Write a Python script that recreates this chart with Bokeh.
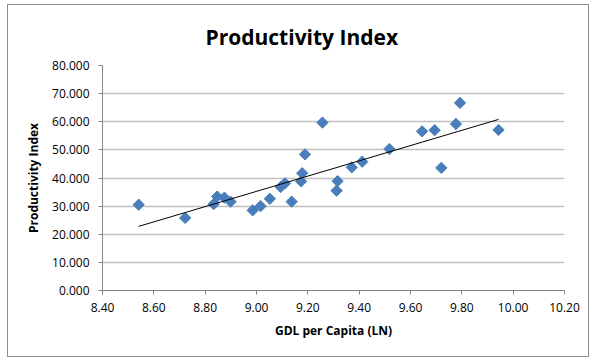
import numpy as np
from bokeh.plotting import figure
from bokeh.models import FixedTicker, NumeralTickFormatter, Range1d, ColumnDataSource, Title
from bokeh.embed import file_html
from bokeh.resources import INLINE

# data
gdp_ln = [8.541, 8.722, 8.833, 8.847, 8.875, 8.899, 8.985, 9.016, 9.052, 9.094,
          9.111, 9.137, 9.174, 9.178, 9.189, 9.257, 9.312, 9.316, 9.371, 9.412,
          9.518, 9.645, 9.694, 9.720, 9.777, 9.793, 9.943]
productivity = [30.5, 25.8, 30.7, 33.4, 33.0, 31.6, 28.5, 30.0, 32.6, 36.8,
                38.1, 31.6, 38.8, 41.7, 48.4, 59.7, 35.5, 38.9, 43.8, 45.8,
                50.3, 56.6, 57.0, 43.6, 59.2, 66.7, 57.1]
x_ticks = [8.4, 8.6, 8.8, 9.0, 9.2, 9.4, 9.6, 9.8, 10.0, 10.2]
y_ticks = [0, 10, 20, 30, 40, 50, 60, 70, 80]

FONT = "Open Sans"

p = figure(width=582, height=353, output_backend="svg", toolbar_location=None,
           x_range=Range1d(8.4, 10.2), y_range=Range1d(0, 80),
           min_border_left=94, min_border_right=26, min_border_top=60,
           min_border_bottom=68)
p.margin = (4, 0, 0, 7)
p.styles = {"border": "1px solid #8c8c8c"}

p.title = Title(text="Productivity Index", align="left", offset=103,
                text_font=FONT, text_font_size="21px", text_font_style="bold",
                text_color="#000000", standoff=30)

src = ColumnDataSource(dict(x=gdp_ln, y=productivity))
p.scatter("x", "y", source=src, marker="square", size=8, angle=np.pi / 4,
          fill_color="#4A7EBB", line_color="#4A7EBB")

# linear trendline computed from the data
slope, intercept = np.polyfit(gdp_ln, productivity, 1)
tx = np.array([min(gdp_ln), max(gdp_ln)])
p.line(tx, slope * tx + intercept, line_color="black", line_width=1)

p.outline_line_color = None
p.xgrid.visible = False
p.ygrid.grid_line_color = "#bfbfbf"
p.ygrid.grid_line_width = 1.5
p.ygrid.ticker = FixedTicker(ticks=y_ticks)

for ax in (p.xaxis[0], p.yaxis[0]):
    ax.axis_line_color = "#868686"
    ax.major_tick_line_color = "#868686"
    ax.minor_tick_line_color = None
    ax.major_tick_in = 0
    ax.major_tick_out = 4
    ax.major_label_text_font = FONT
    ax.major_label_text_font_size = "12px"
    ax.major_label_text_color = "#000000"
    ax.axis_label_text_font = FONT
    ax.axis_label_text_font_size = "12px"
    ax.axis_label_text_font_style = "bold"
    ax.axis_label_text_color = "#000000"

p.xaxis.ticker = FixedTicker(ticks=x_ticks)
p.xaxis.formatter = NumeralTickFormatter(format="0.00")
p.xaxis.axis_label = "GDL per Capita (LN)"
p.xaxis.major_label_standoff = 8
p.xaxis.axis_label_standoff = 7

p.yaxis.ticker = FixedTicker(ticks=y_ticks)
p.yaxis.formatter = NumeralTickFormatter(format="0.000")
p.yaxis.axis_label = "Productivity Index"
p.yaxis.major_label_standoff = 9
p.yaxis.axis_label_standoff = 7

open("out.html", "w").write(file_html(p, INLINE))
